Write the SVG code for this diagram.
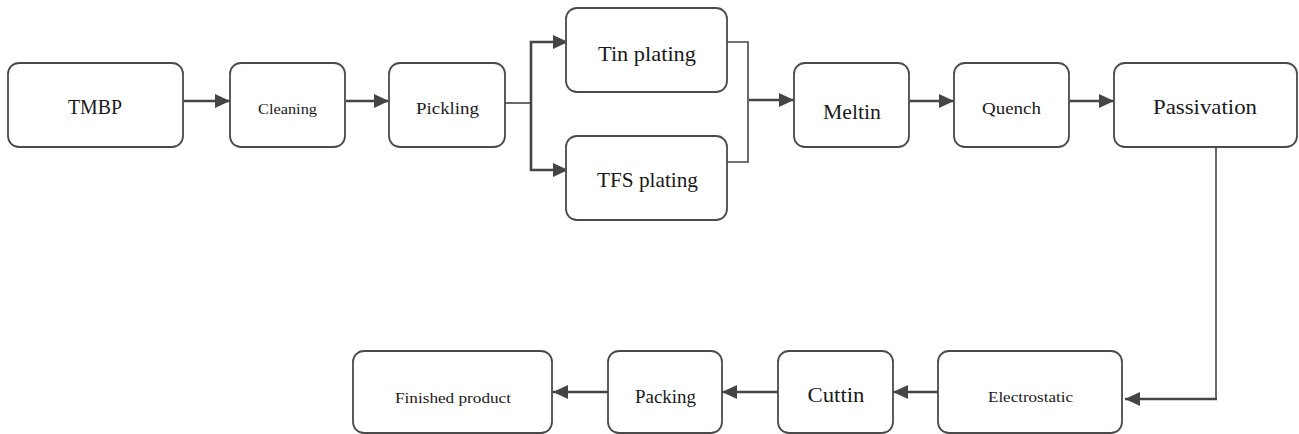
<svg xmlns="http://www.w3.org/2000/svg" width="1299" height="434" viewBox="0 0 1299 434">
  <style>
    .box { fill: #ffffff; stroke: #4a4a4a; stroke-width: 1.8; }
    .lbl { font-family: "Liberation Serif", "DejaVu Serif", serif; fill: #1a1a1a; text-anchor: middle; }
    .link { fill: none; stroke: #454545; stroke-width: 2.6; }
    .thin { fill: none; stroke: #454545; stroke-width: 1.6; }
  </style>
  <defs>
    <marker id="arrow" markerUnits="userSpaceOnUse" markerWidth="16" markerHeight="16" viewBox="0 0 16 16" refX="15" refY="8" orient="auto">
      <path d="M0,1 L15,8 L0,15 Z" fill="#454545"/>
    </marker>
  </defs>
  <rect width="1299" height="434" fill="#ffffff"/>

  <g id="connectors">
    <line class="link" x1="184" y1="101" x2="230" y2="101" marker-end="url(#arrow)"/>
    <line class="link" x1="346" y1="101" x2="389" y2="101" marker-end="url(#arrow)"/>
    <polyline class="thin" points="502,103 531,103"/>
    <polyline class="link" points="531,103 531,42 568,42" marker-end="url(#arrow)"/>
    <polyline class="link" points="531,103 531,170 568,170" marker-end="url(#arrow)"/>
    <polyline class="thin" points="727,42 748,42 748,162 727,162"/>
    <line class="link" x1="749" y1="100" x2="794" y2="100" marker-end="url(#arrow)"/>
    <line class="link" x1="910" y1="101" x2="954" y2="101" marker-end="url(#arrow)"/>
    <line class="link" x1="1070" y1="101" x2="1114" y2="101" marker-end="url(#arrow)"/>
    <polyline class="thin" points="1216,147 1216,399 1190,399"/>
    <line class="link" x1="1217" y1="399" x2="1125" y2="399" marker-end="url(#arrow)"/>
    <line class="link" x1="938" y1="392" x2="893" y2="392" marker-end="url(#arrow)"/>
    <line class="link" x1="778" y1="392" x2="722" y2="392" marker-end="url(#arrow)"/>
    <line class="link" x1="608" y1="392" x2="553" y2="392" marker-end="url(#arrow)"/>
  </g>

  <g id="node-tmbp">
    <rect class="box" x="8" y="63" width="175" height="84" rx="11"/>
    <text class="lbl" x="95" y="114" font-size="22" textLength="54" lengthAdjust="spacingAndGlyphs">TMBP</text>
  </g>
  <g id="node-cleaning">
    <rect class="box" x="230" y="63" width="115" height="84" rx="11"/>
    <text class="lbl" x="287.5" y="114" font-size="15" textLength="59" lengthAdjust="spacingAndGlyphs">Cleaning</text>
  </g>
  <g id="node-pickling">
    <rect class="box" x="389" y="63" width="116" height="84" rx="11"/>
    <text class="lbl" x="447.5" y="114" font-size="17" textLength="63" lengthAdjust="spacingAndGlyphs">Pickling</text>
  </g>
  <g id="node-tin-plating">
    <rect class="box" x="566" y="8" width="161" height="84" rx="11"/>
    <text class="lbl" x="647" y="61" font-size="22" textLength="98" lengthAdjust="spacingAndGlyphs">Tin plating</text>
  </g>
  <g id="node-tfs-plating">
    <rect class="box" x="566" y="136" width="161" height="84" rx="11"/>
    <text class="lbl" x="647.5" y="187" font-size="22" textLength="101" lengthAdjust="spacingAndGlyphs">TFS plating</text>
  </g>
  <g id="node-meltin">
    <rect class="box" x="794" y="63" width="115" height="84" rx="11"/>
    <text class="lbl" x="852" y="119" font-size="20.5" textLength="58" lengthAdjust="spacingAndGlyphs">Meltin</text>
  </g>
  <g id="node-quench">
    <rect class="box" x="954" y="63" width="115" height="84" rx="11"/>
    <text class="lbl" x="1011.5" y="114" font-size="17.5" textLength="59" lengthAdjust="spacingAndGlyphs">Quench</text>
  </g>
  <g id="node-passivation">
    <rect class="box" x="1114" y="63" width="183" height="84" rx="11"/>
    <text class="lbl" x="1205" y="114" font-size="22" textLength="104" lengthAdjust="spacingAndGlyphs">Passivation</text>
  </g>
  <g id="node-electrostatic">
    <rect class="box" x="938" y="351" width="184" height="82" rx="11"/>
    <text class="lbl" x="1030.5" y="402" font-size="15.5" textLength="85" lengthAdjust="spacingAndGlyphs">Electrostatic</text>
  </g>
  <g id="node-cuttin">
    <rect class="box" x="778" y="351" width="115" height="82" rx="11"/>
    <text class="lbl" x="836" y="402" font-size="22" textLength="57" lengthAdjust="spacingAndGlyphs">Cuttin</text>
  </g>
  <g id="node-packing">
    <rect class="box" x="608" y="351" width="114" height="82" rx="11"/>
    <text class="lbl" x="665.5" y="403" font-size="19" textLength="61" lengthAdjust="spacingAndGlyphs">Packing</text>
  </g>
  <g id="node-finished-product">
    <rect class="box" x="353" y="351" width="199" height="82" rx="11"/>
    <text class="lbl" x="453" y="403" font-size="15.5" textLength="116" lengthAdjust="spacingAndGlyphs">Finished product</text>
  </g>
</svg>
